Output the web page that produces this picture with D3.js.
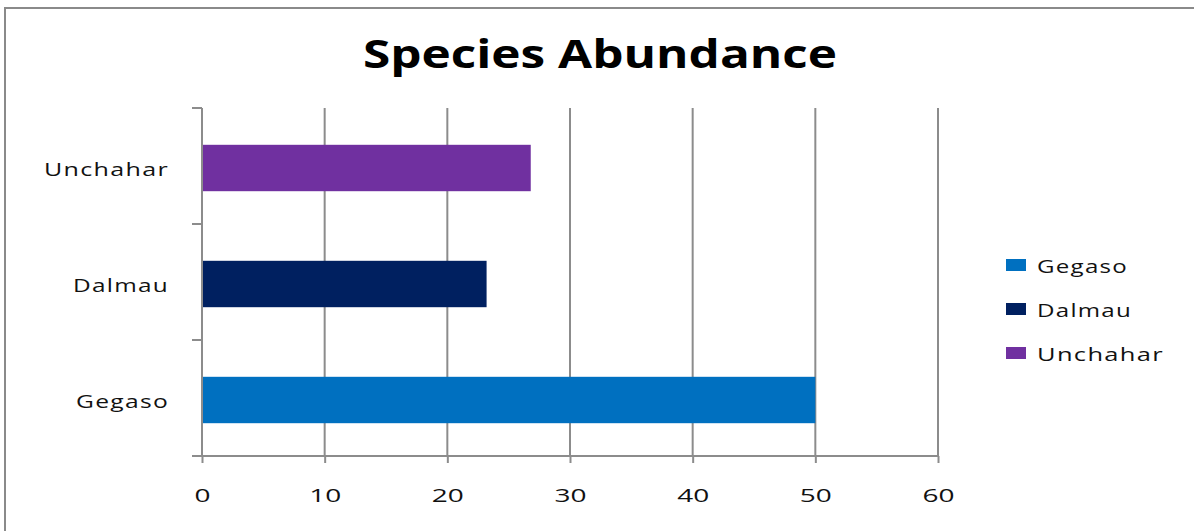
<!DOCTYPE html>
<html>
<head>
<meta charset="utf-8">
<script src="https://cdn.jsdelivr.net/npm/d3@7"></script>
<style>
  html, body { margin: 0; padding: 0; background: #fff; }
  svg { display: block; }
  text { font-family: "Open Sans", "DejaVu Sans", sans-serif; fill: #111; }
</style>
</head>
<body>
<svg id="chart" width="1194" height="531"></svg>
<script>
// Species abundance per site
const categories = ["Gegaso", "Dalmau", "Unchahar"];
const values = [50, 23.2, 26.8];
const colors = ["#0070C0", "#002060", "#7030A0"];
const xTicks = [0, 10, 20, 30, 40, 50, 60];
const title = "Species Abundance";

const svg = d3.select("#chart");
const W = 1194, H = 531;
const plot = { left: 202, right: 938, top: 108, bottom: 456 };

// outer chart frame
svg.append("rect")
  .attr("x", 5).attr("y", 8)
  .attr("width", W + 20).attr("height", H + 20)
  .attr("fill", "#fff")
  .attr("stroke", "#8a8a8a").attr("stroke-width", 2);

// title
svg.append("text")
  .attr("x", 600).attr("y", 68)
  .attr("text-anchor", "middle")
  .attr("font-size", 40).attr("font-weight", 700)
  .attr("textLength", 474).attr("lengthAdjust", "spacingAndGlyphs")
  .style("fill", "#000")
  .text(title);

const x = d3.scaleLinear().domain([0, 60]).range([plot.left, plot.right]);
// top-to-bottom order is reversed from the category list
const y = d3.scaleBand()
  .domain(categories.slice().reverse())
  .range([plot.top, plot.bottom])
  .paddingInner(0.6).paddingOuter(0.3);

// vertical gridlines
svg.append("g").selectAll("line")
  .data(xTicks.filter(d => d > 0))
  .join("line")
  .attr("x1", d => x(d)).attr("x2", d => x(d))
  .attr("y1", plot.top).attr("y2", plot.bottom)
  .attr("stroke", "#8c8c8c").attr("stroke-width", 2);

// bars
svg.append("g").selectAll("rect")
  .data(categories.map((c, i) => ({ c, v: values[i], col: colors[i] })))
  .join("rect")
  .attr("x", x(0))
  .attr("y", d => y(d.c) + 2)
  .attr("width", d => x(d.v) - x(0))
  .attr("height", y.bandwidth())
  .attr("fill", d => d.col);

// x axis
const xAxis = svg.append("g")
  .attr("transform", `translate(0,${plot.bottom})`)
  .call(d3.axisBottom(x).tickValues(xTicks).tickSize(7).tickPadding(20).tickSizeOuter(0));
xAxis.select(".domain").attr("stroke", "#8c8c8c").attr("stroke-width", 2)
  .attr("d", `M${plot.left - 10},0H${plot.right}`);
xAxis.selectAll(".tick line").attr("stroke", "#8c8c8c").attr("stroke-width", 2);
xAxis.selectAll(".tick text")
  .attr("font-size", 19)
  .attr("font-family", "\"Open Sans\", sans-serif")
  .attr("textLength", d => String(d).length * 16)
  .attr("lengthAdjust", "spacingAndGlyphs")
  .style("fill", "#111")
  .attr("dy", "0.35em").attr("y", 39);

// y axis line with ticks at band boundaries
const step = y.step();
const yEdges = d3.range(categories.length + 1).map(i => plot.top + i * step);
svg.append("line")
  .attr("x1", plot.left).attr("x2", plot.left)
  .attr("y1", plot.top).attr("y2", plot.bottom)
  .attr("stroke", "#8c8c8c").attr("stroke-width", 2);
svg.append("g").selectAll("line")
  .data(yEdges)
  .join("line")
  .attr("x1", plot.left - 10).attr("x2", plot.left)
  .attr("y1", d => d).attr("y2", d => d)
  .attr("stroke", "#8c8c8c").attr("stroke-width", 2);

// category labels
const labelWidth = { Unchahar: 125, Dalmau: 96, Gegaso: 93 };
svg.append("g").selectAll("text")
  .data(categories)
  .join("text")
  .attr("x", 169)
  .attr("y", d => y(d) + y.bandwidth() / 2 + 3)
  .attr("dy", "0.35em")
  .attr("text-anchor", "end")
  .attr("font-size", 19).attr("letter-spacing", 1)
  .attr("textLength", d => labelWidth[d]).attr("lengthAdjust", "spacingAndGlyphs")
  .text(d => d);

// legend
const legend = svg.append("g");
const legendY = d3.scalePoint().domain(categories).range([265, 353]);
categories.forEach((c, i) => {
  const cy = legendY(c);
  legend.append("rect")
    .attr("x", 1006).attr("y", cy - 6)
    .attr("width", 20).attr("height", 12)
    .attr("fill", colors[i]);
  legend.append("text")
    .attr("x", 1037).attr("y", cy + 1)
    .attr("dy", "0.35em")
    .attr("font-size", 19).attr("letter-spacing", 1)
    .attr("textLength", { Gegaso: 91, Dalmau: 95, Unchahar: 127 }[c])
    .attr("lengthAdjust", "spacingAndGlyphs")
    .text(c);
});
</script>
</body>
</html>
